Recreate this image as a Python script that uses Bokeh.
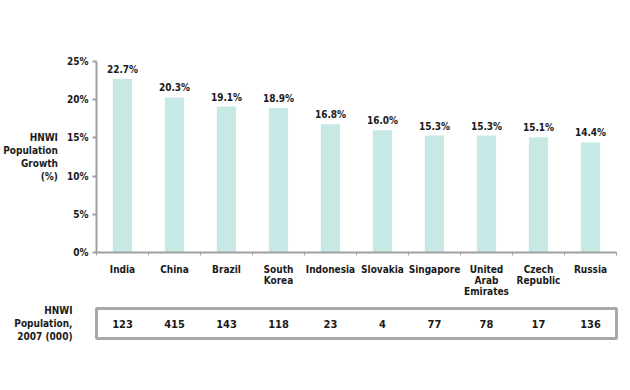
from bokeh.plotting import figure
from bokeh.layouts import column
from bokeh.models import ColumnDataSource, Range1d, FixedTicker, PrintfTickFormatter, LabelSet
from bokeh.core.properties import value
from bokeh.embed import file_html
from bokeh.resources import INLINE

countries = ["India", "China", "Brazil", "South\nKorea", "Indonesia", "Slovakia",
             "Singapore", "United\nArab\nEmirates", "Czech\nRepublic", "Russia"]
growth = [22.7, 20.3, 19.1, 18.9, 16.8, 16.0, 15.3, 15.3, 15.1, 14.4]
population = [123, 415, 143, 118, 23, 4, 77, 78, 17, 136]
y_ticks = [0, 5, 10, 15, 20, 25]

FONT = "DejaVu Sans Condensed"
TXT = "#1a1a1a"
AXC = "#a0a0a0"

n = len(countries)
xs = [i + 0.5 for i in range(n)]
src = ColumnDataSource(dict(
    x=xs, growth=growth,
    glabel=[f"{g:.1f}%" for g in growth],
    pop=[str(v) for v in population],
    mid=[0.5] * n,
))

p = figure(width=622, height=306, output_backend="svg", toolbar_location=None,
           x_range=Range1d(0, n), y_range=Range1d(0, 25),
           min_border_left=96, min_border_right=6, min_border_top=61, min_border_bottom=54)
p.outline_line_color = None
p.grid.visible = False
p.background_fill_color = "white"
p.border_fill_color = "white"

p.vbar(x="x", top="growth", bottom=0, width=0.37, source=src,
       fill_color="#c6e9e6", line_color=None)

p.add_layout(LabelSet(x="x", y="growth", text="glabel", source=src, y_offset=4,
                      text_align="center", text_baseline="bottom",
                      text_font=value(FONT), text_font_style="bold", text_font_size="10px",
                      text_color=TXT))

# y axis
p.yaxis.ticker = FixedTicker(ticks=y_ticks)
p.yaxis.formatter = PrintfTickFormatter(format="%d%%")
p.yaxis.axis_line_color = AXC
p.yaxis.axis_line_width = 2
p.yaxis.major_tick_line_color = AXC
p.yaxis.major_tick_line_width = 2
p.yaxis.major_tick_out = 4
p.yaxis.major_tick_in = 0
p.yaxis.minor_tick_line_color = None
p.yaxis.major_label_text_font = FONT
p.yaxis.major_label_text_font_style = "bold"
p.yaxis.major_label_text_font_size = "10px"
p.yaxis.major_label_text_color = TXT
p.yaxis.major_label_standoff = 4
p.yaxis.axis_label = "HNWI\nPopulation\nGrowth\n(%)"
p.yaxis.axis_label_orientation = "horizontal"
p.yaxis.axis_label_text_font = FONT
p.yaxis.axis_label_text_font_style = "bold"
p.yaxis.axis_label_text_font_size = "10px"
p.yaxis.axis_label_text_color = TXT
p.yaxis.axis_label_standoff = 6
p.yaxis.axis_label_text_align = "center"

# x axis: labels at category centres, small ticks at category boundaries
p.xaxis.ticker = FixedTicker(ticks=xs, minor_ticks=list(range(n + 1)))
p.xaxis.major_label_overrides = {x: c for x, c in zip(xs, countries)}
p.xaxis.major_label_text_font = FONT
p.xaxis.major_label_text_font_style = "bold"
p.xaxis.major_label_text_font_size = "10px"
p.xaxis.major_label_text_color = TXT
p.xaxis.major_label_text_line_height = 1.0
p.xaxis.major_label_standoff = 8
p.xaxis.axis_line_color = AXC
p.xaxis.axis_line_width = 2
p.xaxis.major_tick_line_color = None
p.xaxis.major_tick_out = 0
p.xaxis.major_tick_in = 0
p.xaxis.minor_tick_line_color = AXC
p.xaxis.minor_tick_line_width = 1
p.xaxis.minor_tick_out = 3
p.xaxis.minor_tick_in = 0

# table figure
t = figure(width=622, height=72, output_backend="svg", toolbar_location=None,
           x_range=Range1d(0, n), y_range=Range1d(0, 1),
           min_border_left=96, min_border_right=6, min_border_top=2, min_border_bottom=40)
t.grid.visible = False
t.xaxis.visible = False
t.outline_line_color = "#a8a8a8"
t.outline_line_width = 3
t.border_fill_color = "white"
t.text(x="x", y="mid", text="pop", source=src, text_align="center", text_baseline="middle",
       text_font=value(FONT), text_font_style="bold", text_font_size="11px", text_color=TXT)
t.yaxis.ticker = FixedTicker(ticks=[])
t.yaxis.axis_line_color = None
t.yaxis.major_tick_line_color = None
t.yaxis.major_tick_out = 0
t.yaxis.minor_tick_line_color = None
t.yaxis.major_label_standoff = 0
t.yaxis.major_label_text_font_size = "0px"
t.yaxis.axis_label = "HNWI\nPopulation,\n2007 (000)"
t.yaxis.axis_label_orientation = "horizontal"
t.yaxis.axis_label_text_font = FONT
t.yaxis.axis_label_text_font_style = "bold"
t.yaxis.axis_label_text_font_size = "10px"
t.yaxis.axis_label_text_color = TXT
t.yaxis.axis_label_standoff = 24
t.yaxis.axis_label_text_align = "center"

layout = column(p, t, spacing=0)
open("out.html", "w").write(file_html(layout, INLINE))
